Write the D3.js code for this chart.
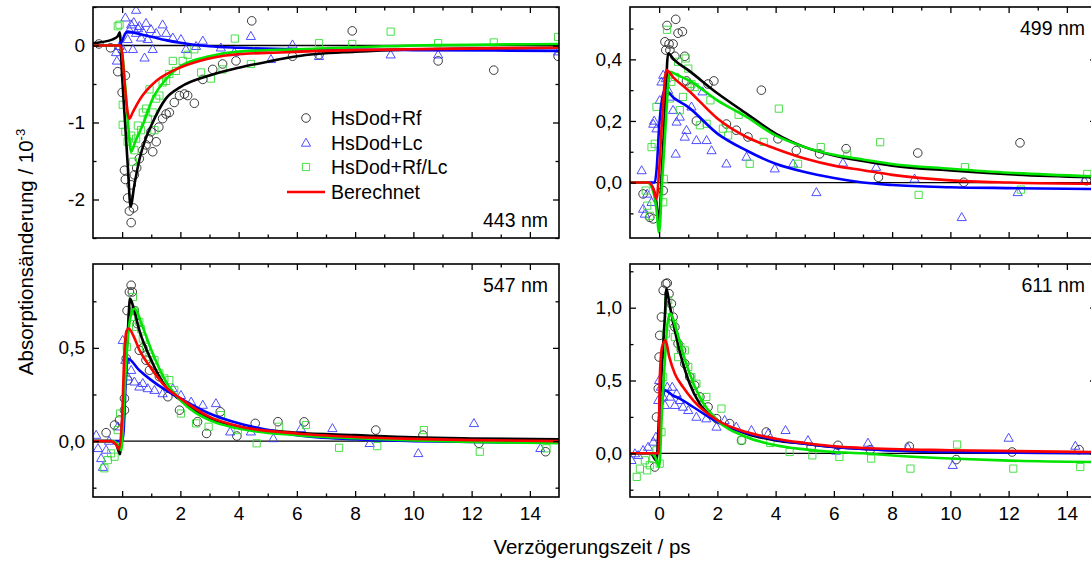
<!DOCTYPE html>
<html>
<head>
<meta charset="utf-8">
<script src="https://cdn.jsdelivr.net/npm/d3@7"></script>
<style>
  body { margin: 0; background: #fff; }
  svg { display: block; }
  text { font-family: "Liberation Sans", Arial, sans-serif; fill: #000; }
</style>
</head>
<body>
<svg id="chart" width="1091" height="561"></svg>
<script>
// ---- shared x axis (delay time in ps) ----
const xDomain = [-1, 15];
const xMajorTicks = [0, 2, 4, 6, 8, 10, 12, 14];
const xMinorTicks = [1, 3, 5, 7, 9, 11, 13];

const seriesNames = ["HsDod+Rf", "HsDod+Lc", "HsDod+Rf/Lc", "Berechnet"];

// ---- 443 nm ----
const yDomain443 = [-2.5, 0.5];
const yMajor443 = [-2, -1, 0];
const yLabels443 = ["-2", "-1", "0"];
const yMinor443 = [-2.5, -1.5, -0.5, 0.5];
const rf443 = [[-0.8,0.02],[-0.4,-0.03],[-0.15,-0.34],[0.0,-0.61],[0.11,-0.39],[0.08,-1.62],[0.11,-1.74],[0.19,-1.98],[0.25,-2.15],[0.31,-2.3],[0.39,-2.11],[0.31,-1.81],[0.42,-1.68],[0.5,-1.59],[0.59,-1.47],[0.71,-1.36],[0.82,-1.29],[0.91,-1.21],[0.99,-1.12],[1.05,-1.38],[1.17,-1.25],[1.26,-1.06],[1.39,-0.95],[1.51,-0.89],[1.62,-0.87],[1.79,-0.74],[1.97,-0.65],[2.14,-0.63],[2.25,-0.65],[2.48,-0.75],[2.77,-0.44],[3.11,-0.31],[3.45,-0.24],[3.91,-0.2],[4.45,0.32],[5.85,-0.14],[6.76,-0.12],[7.9,0.19],[10.85,-0.2],[12.76,-0.32],[14.97,-0.14]];
const lc443 = [[-0.21,-0.09],[-0.18,-0.2],[-0.09,-0.01],[0.02,-0.05],[0.11,0.36],[0.19,0.08],[0.25,0.2],[0.31,0.27],[0.37,-0.05],[0.4,0.3],[0.48,0.46],[0.48,0.16],[0.55,0.22],[0.59,0.25],[0.65,0.1],[0.71,0.18],[0.77,-0.16],[0.82,0.29],[0.88,0.08],[0.99,0.21],[1.05,-0.05],[1.17,0.16],[1.39,0.27],[1.51,0.16],[1.74,0.1],[2.02,0.08],[2.19,-0.05],[2.54,-0.01],[2.77,0.06],[3.39,-0.03],[3.85,-0.09],[4.42,0.12],[5.11,-0.18],[5.85,0.01],[6.76,-0.14],[9.22,-0.12],[10.85,-0.12],[14.97,-0.08]];
const rflc443 = [[-0.15,0.25],[-0.09,0.27],[0.02,-0.77],[0.02,-1.03],[0.11,-1.12],[0.19,-1.25],[0.31,-1.17],[0.37,-1.51],[0.42,-1.36],[0.48,-1.21],[0.54,-1.04],[0.65,-1.1],[0.71,-0.87],[0.82,-0.82],[0.88,-0.95],[0.94,-0.57],[1.05,-0.87],[1.11,-1.1],[1.17,-0.69],[1.28,-0.65],[1.39,-0.48],[1.51,-0.46],[1.62,-0.37],[1.74,-0.2],[1.85,-0.33],[2.08,-0.2],[2.25,-0.12],[2.48,-0.05],[2.71,-0.35],[3.05,-0.43],[3.45,-0.31],[3.87,0.09],[4.42,-0.24],[6.76,0.03],[7.9,0.02],[9.22,0.18],[10.85,0.03],[12.76,0.04],[14.97,0.11]];
const fitRf443 = [[-1,0.03],[-0.32,0.08],[-0.15,0.12],[-0.08,0.17],[0,-0.4],[0.1,-1.0],[0.2,-1.6],[0.29,-2.09],[0.42,-1.81],[0.6,-1.47],[0.8,-1.22],[1,-1.04],[1.5,-0.69],[2,-0.54],[3,-0.39],[4,-0.29],[5,-0.21],[6,-0.14],[8,-0.08],[10,-0.05],[12,-0.04],[15,-0.03]];
const fitLc443 = [[-1,0],[-0.1,0],[0,0.06],[0.1,0.15],[0.19,0.18],[0.4,0.165],[0.7,0.14],[1,0.115],[1.5,0.07],[2,0.035],[3,-0.01],[4,-0.03],[6,-0.05],[10,-0.06],[15,-0.07]];
const fitRfLc443 = [[-1,0],[-0.1,0],[0,-0.1],[0.1,-0.5],[0.2,-1.0],[0.31,-1.38],[0.45,-1.25],[0.7,-1.04],[1.05,-0.69],[1.5,-0.44],[2,-0.27],[3,-0.14],[4,-0.08],[6,-0.05],[9,-0.01],[15,0.02]];
const fitCalc443 = [[-1,0],[-0.05,0],[0,-0.1],[0.1,-0.55],[0.19,-0.87],[0.25,-0.95],[0.35,-0.88],[0.5,-0.77],[0.7,-0.65],[1.17,-0.46],[1.73,-0.33],[2.65,-0.2],[3.8,-0.12],[5.4,-0.09],[8,-0.06],[15,-0.03]];

// ---- 499 nm ----
const yDomain499 = [-0.18, 0.57];
const yMajor499 = [0, 0.2, 0.4];
const yLabels499 = ["0,0", "0,2", "0,4"];
const yMinor499 = [-0.1, 0.1, 0.3, 0.5];
const rf499 = [[-0.55,-0.037],[-0.32,-0.113],[-0.2,-0.118],[0.14,-0.026],[0.2,0.457],[0.23,0.43],[0.27,0.51],[0.34,0.45],[0.37,0.43],[0.48,0.45],[0.54,0.41],[0.57,0.53],[0.65,0.485],[0.8,0.49],[0.88,0.41],[0.94,0.33],[1.05,0.31],[1.28,0.2],[1.68,0.32],[1.88,0.33],[2.31,0.19],[2.65,0.17],[3.05,0.148],[3.51,0.3],[4.08,0.142],[4.71,0.104],[5.51,0.093],[6.42,0.11],[7.53,0.017],[8.88,0.096],[10.46,0.001],[12.39,0.129],[14.67,0.006]];
const lc499 = [[-0.6,0.039],[-0.55,-0.086],[-0.49,-0.102],[-0.41,-0.037],[-0.26,-0.064],[-0.2,0.19],[-0.17,0.2],[-0.09,0.175],[0.02,0.267],[0.08,0.327],[0.14,0.349],[0.23,0.338],[0.31,0.3],[0.37,0.278],[0.48,0.235],[0.57,0.093],[0.6,0.197],[0.71,0.213],[0.88,0.148],[0.94,0.17],[1.11,0.246],[1.28,0.137],[1.49,0.295],[1.63,0.137],[1.8,0.104],[2.31,0.061],[3.0,0.083],[3.97,0.045],[4.6,0.061],[5.4,-0.032],[6.31,0.064],[7.45,0.05],[8.77,0.012],[10.39,-0.113],[12.31,-0.032],[14.6,0.006]];
const rflc499 = [[-0.46,-0.026],[-0.41,-0.075],[-0.32,-0.108],[-0.26,0.115],[-0.15,0.126],[-0.09,0.246],[0.14,-0.064],[0.16,0.012],[0.27,0.496],[0.37,0.273],[0.42,0.327],[0.54,0.343],[0.65,0.392],[0.71,0.235],[0.82,0.278],[0.91,0.403],[1.0,0.37],[1.11,0.32],[1.22,0.31],[1.4,0.186],[1.63,0.191],[1.76,0.267],[2.19,0.175],[2.37,0.153],[2.73,0.22],[3.11,0.061],[3.59,0.132],[4.11,0.24],[4.77,0.061],[5.55,0.115],[6.46,0.091],[7.59,0.131],[8.91,-0.04],[10.5,0.05],[12.42,-0.023],[14.7,0.028]];
const fitRf499 = [[-1,0],[-0.4,0],[-0.2,-0.02],[-0.1,-0.06],[0,-0.124],[0.1,0.05],[0.2,0.23],[0.31,0.42],[0.5,0.4],[1,0.365],[2,0.29],[3,0.224],[4,0.159],[5,0.115],[6,0.088],[7,0.07],[8,0.055],[10,0.039],[12,0.027],[15,0.017]];
const fitLc499 = [[-1,0],[-0.15,0],[-0.08,0.05],[0,0.18],[0.1,0.27],[0.2,0.3],[0.5,0.275],[1,0.245],[2,0.159],[3,0.104],[4,0.061],[5,0.034],[6,0.015],[7,0],[8,-0.008],[10,-0.015],[12,-0.018],[15,-0.021]];
const fitRfLc499 = [[-1,0],[-0.4,0],[-0.2,-0.03],[-0.1,-0.08],[0,-0.162],[0.1,0],[0.2,0.15],[0.37,0.36],[0.6,0.35],[1,0.333],[2,0.267],[3,0.213],[4,0.153],[5,0.115],[6,0.09],[7,0.075],[8,0.06],[10,0.045],[12,0.032],[15,0.02]];
const fitCalc499 = [[-1,0],[-0.35,0],[-0.2,-0.02],[-0.09,-0.053],[0,0.04],[0.1,0.2],[0.25,0.365],[0.5,0.34],[1,0.3],[2,0.208],[3,0.148],[4,0.11],[5,0.078],[6,0.055],[7,0.04],[8,0.025],[10,0.007],[12,0],[15,-0.004]];

// ---- 547 nm ----
const yDomain547 = [-0.3, 0.95];
const yMajor547 = [0, 0.5];
const yLabels547 = ["0,0", "0,5"];
const yMinor547 = [-0.25, 0.25, 0.75];
const rf547 = [[-0.55,0.045],[-0.26,0.086],[-0.09,0.113],[0.08,0.166],[0.08,0.229],[0.14,0.443],[0.19,0.327],[0.17,0.7],[0.25,0.8],[0.31,0.836],[0.35,0.8],[0.42,0.7],[0.52,0.63],[0.59,0.487],[0.71,0.5],[0.82,0.434],[0.94,0.38],[1.28,0.345],[1.57,0.238],[1.97,0.166],[2.59,0.104],[2.9,0.041],[3.37,0.157],[3.94,0.027],[4.57,0.095],[5.35,0.104],[6.25,0.103],[8.71,0.059],[10.33,0.032],[12.25,-0.012],[14.54,-0.057]];
const lc547 = [[-0.89,0.032],[-0.83,-0.039],[-0.72,-0.093],[-0.66,-0.14],[-0.55,-0.048],[-0.45,0.0],[-0.15,0.077],[0.02,0.541],[0.11,0.434],[0.19,0.345],[0.31,0.38],[0.42,0.318],[0.59,0.291],[0.71,0.31],[0.88,0.282],[1.11,0.273],[1.39,0.255],[1.74,0.282],[2.02,0.246],[2.37,0.21],[2.77,0.193],[3.22,0.202],[3.71,0.05],[4.42,0.05],[5.19,0.014],[6.14,0.068],[7.22,0.068],[8.5,-0.012],[10.17,-0.066],[12.08,0.095],[14.36,-0.039]];
const rflc547 = [[-0.61,-0.146],[-0.49,-0.102],[-0.38,-0.066],[-0.26,-0.084],[-0.15,0.059],[-0.07,0.148],[0.16,0.505],[0.31,0.666],[0.37,0.773],[0.42,0.7],[0.48,0.613],[0.59,0.639],[0.65,0.6],[0.71,0.55],[0.82,0.505],[0.94,0.452],[1.11,0.434],[1.28,0.363],[1.45,0.336],[1.62,0.327],[1.79,0.273],[2.02,0.148],[2.54,0.095],[2.97,0.077],[3.39,0.139],[3.97,0.059],[4.62,-0.012],[5.39,0.077],[6.31,0.086],[7.45,-0.036],[8.76,-0.027],[10.36,0.059],[12.28,-0.057],[14.57,-0.039]];
const fitRf547 = [[-1,0],[-0.4,0],[-0.2,-0.02],[-0.07,-0.07],[0,0.1],[0.1,0.34],[0.2,0.6],[0.27,0.764],[0.4,0.71],[0.59,0.595],[1,0.434],[1.5,0.291],[2,0.22],[3,0.121],[4,0.077],[5,0.058],[6,0.045],[8,0.032],[10,0.02],[12,0.014],[15,0.009]];
const fitLc547 = [[-1,0],[0,0],[0.05,0.05],[0.12,0.3],[0.19,0.443],[0.59,0.38],[1,0.327],[1.5,0.273],[2,0.229],[3,0.148],[4,0.095],[5,0.06],[6,0.032],[8,0.01],[10,0],[12,-0.005],[15,-0.009]];
const fitRfLc547 = [[-1,0],[-0.3,0],[-0.1,-0.03],[-0.03,-0.05],[0.05,0.15],[0.15,0.45],[0.28,0.66],[0.42,0.71],[0.71,0.61],[1,0.49],[1.5,0.32],[2,0.22],[3,0.112],[4,0.068],[6,0.032],[8,0.015],[10,0.003],[12,-0.005],[15,-0.012]];
const fitCalc547 = [[-1,0],[-0.4,0],[-0.2,-0.02],[-0.11,-0.045],[0,0.13],[0.08,0.48],[0.15,0.59],[0.23,0.604],[0.4,0.56],[0.59,0.49],[1,0.39],[1.5,0.29],[2,0.229],[3,0.13],[4,0.08],[6,0.041],[8,0.022],[10,0.012],[12,0.005],[15,0]];

// ---- 611 nm ----
const yDomain611 = [-0.3, 1.3];
const yMajor611 = [0, 0.5, 1.0];
const yLabels611 = ["0,0", "0,5", "1,0"];
const yMinor611 = [-0.25, 0.25, 0.75, 1.25];
const rf611 = [[-0.15,-0.094],[-0.09,0.249],[-0.03,0.444],[0.0,0.661],[0.02,0.81],[0.08,0.936],[0.14,1.119],[0.23,1.165],[0.28,1.169],[0.34,1.096],[0.42,1.027],[0.48,0.936],[0.54,0.867],[0.65,0.753],[0.77,0.707],[0.88,0.616],[1.05,0.524],[1.22,0.467],[1.4,0.387],[1.68,0.318],[1.97,0.238],[2.42,0.204],[2.83,0.089],[3.68,0.146],[5.22,0.043],[6.14,0.055],[7.25,0.025],[8.59,0.048],[10.2,-0.043],[12.12,0.009],[14.42,0.025]];
const lc611 = [[-0.95,-0.048],[-0.83,-0.002],[-0.72,-0.014],[-0.55,0.021],[-0.38,0.043],[-0.2,0.078],[-0.11,0.112],[-0.03,0.364],[0.0,0.501],[0.06,0.455],[0.14,0.387],[0.2,0.33],[0.28,0.455],[0.37,0.387],[0.45,0.455],[0.54,0.33],[0.6,0.41],[0.71,0.364],[0.82,0.318],[1.0,0.295],[1.28,0.249],[1.62,0.238],[1.97,0.181],[2.25,0.227],[2.65,0.181],[3.17,0.158],[3.74,0.135],[4.34,0.158],[5.11,0.089],[6.08,0.016],[7.17,0.071],[8.54,0.039],[10.08,-0.082],[12.0,0.105],[14.29,0.05]];
const rflc611 = [[-0.77,-0.162],[-0.66,-0.105],[-0.49,-0.048],[-0.41,-0.117],[-0.32,-0.082],[-0.2,-0.037],[-0.09,0.021],[0.02,-0.071],[0.08,0.146],[0.14,0.524],[0.23,0.822],[0.31,1.05],[0.37,0.982],[0.48,0.89],[0.54,0.799],[0.65,0.661],[0.73,0.73],[0.88,0.707],[1.0,0.593],[1.11,0.524],[1.28,0.478],[1.62,0.387],[2.14,0.307],[2.83,0.089],[3.82,0.071],[4.48,0.009],[5.26,-0.014],[6.19,-0.025],[7.28,-0.036],[8.63,-0.105],[10.23,0.06],[12.16,-0.105],[14.46,-0.094]];
const fitRf611 = [[-1,0],[-0.3,0],[-0.09,-0.05],[0,0.26],[0.1,0.61],[0.2,0.95],[0.25,1.13],[0.35,1.03],[0.54,0.844],[0.82,0.616],[1.05,0.478],[1.39,0.341],[2,0.227],[3,0.135],[4,0.089],[5,0.066],[6,0.043],[8,0.022],[10,0.009],[12,0.005],[15,0.002]];
const fitLc611 = [[-1,0],[-0.05,0],[0.05,0.2],[0.12,0.38],[0.2,0.432],[0.45,0.4],[0.71,0.375],[1.17,0.318],[2,0.215],[3,0.14],[4,0.094],[5,0.066],[6,0.043],[8,0.02],[10,0.009],[12,0.004],[15,0]];
const fitRfLc611 = [[-1,0],[-0.3,0],[-0.1,-0.04],[0,-0.094],[0.1,0.3],[0.2,0.65],[0.28,0.88],[0.37,0.96],[0.6,0.844],[0.82,0.684],[1.05,0.547],[1.39,0.387],[2,0.227],[3,0.112],[4,0.055],[5,0.027],[6,0.009],[7,0],[8,-0.015],[10,-0.036],[12,-0.05],[15,-0.06]];
const fitCalc611 = [[-1,0],[-0.02,0],[0.02,0.5],[0.1,0.73],[0.22,0.776],[0.35,0.66],[0.54,0.547],[0.82,0.455],[1.17,0.364],[2,0.227],[3,0.146],[4,0.1],[5,0.071],[6,0.048],[7,0.037],[10,0.021],[15,0.009]];

// ---- layout ----
const svg = d3.select("#chart");
const colX = [93, 630];
const rowY = [7, 264];
const panelW = 466;
const rowH = [231, 233];

const panels = [
  { label: "443 nm", col: 0, row: 0, labelAtTop: false, legend: true,
    yDomain: yDomain443, yMajor: yMajor443, yLabels: yLabels443, yMinor: yMinor443,
    points: [rf443, lc443, rflc443], fits: [fitRf443, fitLc443, fitRfLc443, fitCalc443] },
  { label: "499 nm", col: 1, row: 0, labelAtTop: true,
    yDomain: yDomain499, yMajor: yMajor499, yLabels: yLabels499, yMinor: yMinor499,
    points: [rf499, lc499, rflc499], fits: [fitRf499, fitLc499, fitRfLc499, fitCalc499] },
  { label: "547 nm", col: 0, row: 1, labelAtTop: true,
    yDomain: yDomain547, yMajor: yMajor547, yLabels: yLabels547, yMinor: yMinor547,
    points: [rf547, lc547, rflc547], fits: [fitRf547, fitLc547, fitRfLc547, fitCalc547] },
  { label: "611 nm", col: 1, row: 1, labelAtTop: true,
    yDomain: yDomain611, yMajor: yMajor611, yLabels: yLabels611, yMinor: yMinor611,
    points: [rf611, lc611, rflc611], fits: [fitRf611, fitLc611, fitRfLc611, fitCalc611] }
];

// marker shapes and colours: circle / triangle / square, then fit lines
const markerStroke = ["#262626", "#3b3bff", "#36dc36"];
const lineColors = ["#000000", "#0000ff", "#00e400", "#ff0000"];
const lineOrder = [0, 1, 2, 3];

const circlePath = d3.symbol(d3.symbolCircle, Math.PI * 4.3 * 4.3)();
const trianglePath = "M0,-4.8L4.6,3.2L-4.6,3.2Z";
const squarePath = "M-3.6,-3.6h7.2v7.2h-7.2Z";
const markerPaths = [circlePath, trianglePath, squarePath];

const tickFont = 19;

panels.forEach((p, i) => {
  const x0 = colX[p.col], y0 = rowY[p.row];
  const h = rowH[p.row];
  const g = svg.append("g").attr("transform", `translate(${x0},${y0})`);

  const x = d3.scaleLinear().domain(xDomain).range([0, panelW]);
  const y = d3.scaleLinear().domain(p.yDomain).range([h, 0]);

  const clipId = "clip" + i;
  g.append("clipPath").attr("id", clipId)
    .append("rect").attr("width", panelW).attr("height", h);

  const plot = g.append("g").attr("clip-path", `url(#${clipId})`);

  // zero line
  plot.append("line")
    .attr("x1", x(xDomain[0])).attr("x2", x(xDomain[1]))
    .attr("y1", y(0)).attr("y2", y(0))
    .attr("stroke", "#000").attr("stroke-width", 1.3);

  // measured points
  p.points.forEach((pts, k) => {
    plot.append("g").selectAll("path").data(pts).join("path")
      .attr("d", markerPaths[k])
      .attr("transform", d => `translate(${x(d[0])},${y(d[1])})`)
      .attr("fill", "none")
      .attr("stroke", markerStroke[k])
      .attr("stroke-width", 0.9);
  });

  // fitted / calculated curves
  const line = d3.line().x(d => x(d[0])).y(d => y(d[1])).curve(d3.curveMonotoneX);
  lineOrder.forEach(k => {
    plot.append("path").datum(p.fits[k])
      .attr("d", line)
      .attr("fill", "none")
      .attr("stroke", lineColors[k])
      .attr("stroke-width", 2.6)
      .attr("stroke-linejoin", "round");
  });

  // axes with inward ticks on all four sides
  const styleAxis = sel => {
    sel.select(".domain").remove();
    sel.selectAll("line").attr("stroke", "#000").attr("stroke-width", 1.3);
    sel.selectAll("text").attr("font-size", tickFont)
      .attr("font-family", '"Liberation Sans", Arial, sans-serif');
  };
  const showX = p.row === 1;
  g.append("g").attr("transform", `translate(0,${h})`)
    .call(d3.axisBottom(x).tickValues(xMajorTicks).tickSize(-6).tickPadding(10)
      .tickFormat(showX ? d3.format("d") : () => ""))
    .call(styleAxis);
  g.append("g").attr("transform", `translate(0,${h})`)
    .call(d3.axisBottom(x).tickValues(xMinorTicks).tickSize(-3.5).tickFormat(() => ""))
    .call(styleAxis);
  g.append("g")
    .call(d3.axisTop(x).tickValues(xMajorTicks).tickSize(-6).tickFormat(() => ""))
    .call(styleAxis);
  g.append("g")
    .call(d3.axisTop(x).tickValues(xMinorTicks).tickSize(-3.5).tickFormat(() => ""))
    .call(styleAxis);

  g.append("g")
    .call(d3.axisLeft(y).tickValues(p.yMajor).tickSize(-6).tickPadding(8)
      .tickFormat((d, j) => p.yLabels[j]))
    .call(styleAxis);
  g.append("g")
    .call(d3.axisLeft(y).tickValues(p.yMinor).tickSize(-3.5).tickFormat(() => ""))
    .call(styleAxis);
  g.append("g").attr("transform", `translate(${panelW},0)`)
    .call(d3.axisRight(y).tickValues(p.yMajor).tickSize(-6).tickFormat(() => ""))
    .call(styleAxis);
  g.append("g").attr("transform", `translate(${panelW},0)`)
    .call(d3.axisRight(y).tickValues(p.yMinor).tickSize(-3.5).tickFormat(() => ""))
    .call(styleAxis);

  // frame
  g.append("rect").attr("width", panelW).attr("height", h)
    .attr("fill", "none").attr("stroke", "#000").attr("stroke-width", 1.6);

  // wavelength label
  g.append("text")
    .attr("x", panelW - 11)
    .attr("y", p.labelAtTop ? 28 : h - 11)
    .attr("text-anchor", "end")
    .attr("font-size", 19.5)
    .text(p.label);

  // legend
  if (p.legend) {
    const lg = g.append("g");
    const rowsY = [111, 136, 160, 185];
    seriesNames.forEach((name, k) => {
      if (k < 3) {
        lg.append("path").attr("d", markerPaths[k])
          .attr("transform", `translate(213,${rowsY[k]})`)
          .attr("fill", "none").attr("stroke", markerStroke[k]).attr("stroke-width", 0.9);
      } else {
        lg.append("line").attr("x1", 194).attr("x2", 232)
          .attr("y1", rowsY[k]).attr("y2", rowsY[k])
          .attr("stroke", lineColors[3]).attr("stroke-width", 2.6);
      }
      lg.append("text").attr("x", 238).attr("y", rowsY[k] + 7)
        .attr("font-size", 19.5).text(name);
    });
  }
});

// axis titles
svg.append("text")
  .attr("x", 592).attr("y", 554)
  .attr("text-anchor", "middle")
  .attr("font-size", 20.5)
  .text("Verzögerungszeit / ps");

const yTitle = svg.append("text")
  .attr("transform", "translate(33,252) rotate(-90)")
  .attr("text-anchor", "middle")
  .attr("font-size", 20.5);
yTitle.append("tspan").text("Absorptionsänderung / 10");
yTitle.append("tspan").attr("dy", -8).attr("font-size", 13).text("-3");
</script>
</body>
</html>
